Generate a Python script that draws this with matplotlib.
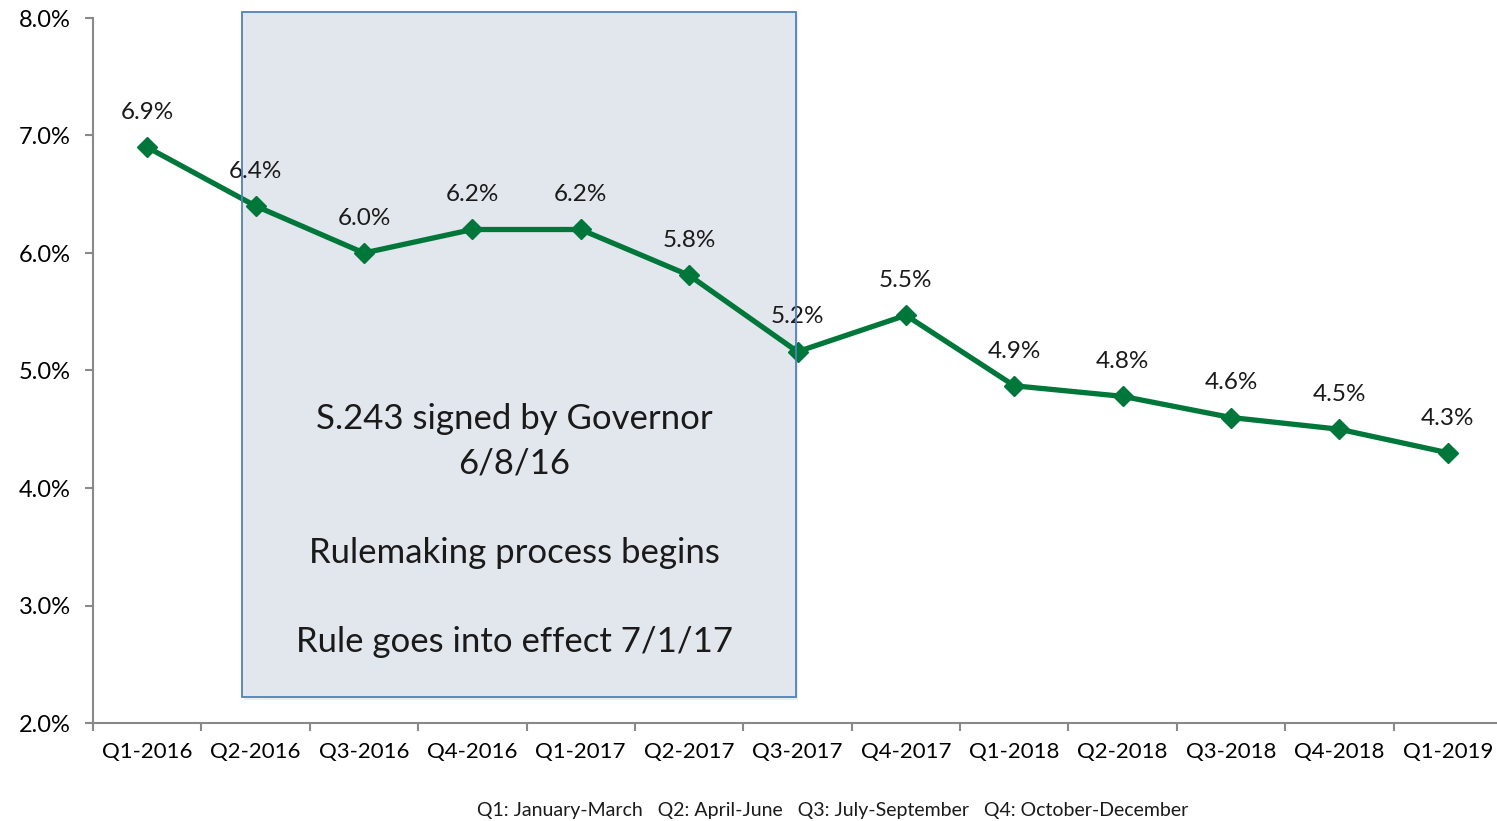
import numpy as np
import matplotlib.pyplot as plt
from matplotlib.patches import Rectangle

quarters = ["Q1-2016", "Q2-2016", "Q3-2016", "Q4-2016", "Q1-2017", "Q2-2017",
            "Q3-2017", "Q4-2017", "Q1-2018", "Q2-2018", "Q3-2018", "Q4-2018", "Q1-2019"]
rates = [6.9, 6.4, 6.0, 6.2, 6.2, 5.81, 5.16, 5.47, 4.87, 4.78, 4.6, 4.5, 4.3]
rate_labels = ["6.9%", "6.4%", "6.0%", "6.2%", "6.2%", "5.8%", "5.2%", "5.5%",
               "4.9%", "4.8%", "4.6%", "4.5%", "4.3%"]
y_ticks = [2.0, 3.0, 4.0, 5.0, 6.0, 7.0, 8.0]

box_text = ("S.243 signed by Governor\n6/8/16\n\nRulemaking process begins\n\n"
            "Rule goes into effect 7/1/17")
footnote = "Q1: January-March   Q2: April-June   Q3: July-September   Q4: October-December"

plt.rcParams['font.family'] = ['Lato', 'DejaVu Sans']

fig = plt.figure(figsize=(14.97, 8.21), dpi=100)
ax = fig.add_axes([93 / 1497, 1 - 723 / 821, (1502 - 93) / 1497, (723 - 18) / 821])

x = np.arange(len(quarters))

# shaded box (fill below the line, border above)
ax.add_patch(Rectangle((0.89, 2.20), 5.11, 5.83, facecolor='#c9c9c9', edgecolor='none',
                       alpha=0.35, zorder=0, clip_on=False))
ax.add_patch(Rectangle((0.876, 2.22), 5.11, 5.83, facecolor='#e2e6ed', edgecolor='none',
                       zorder=0.5, clip_on=False))
ax.add_patch(Rectangle((0.876, 2.22), 5.11, 5.83, facecolor='none', edgecolor='#4f81bd',
                       linewidth=1.3, zorder=5, clip_on=False))

ax.plot(x, rates, '-D', color='#00773A', linewidth=3.8, markersize=10, zorder=3)

for xi, v, lab in zip(x, rates, rate_labels):
    ax.annotate(lab, (xi, v), xytext=(0, 25), textcoords='offset points',
                ha='center', va='center', fontsize=17.5, color='#1a1a1a', zorder=4)

ax.text(3.39, 3.64, box_text, ha='center', va='center', fontsize=25,
        color='#1a1a1a', linespacing=1.48, zorder=6)

ax.set_xlim(-0.5, len(quarters) - 0.5)
ax.set_ylim(2.0, 8.0)
ax.set_yticks(y_ticks)
ax.set_yticklabels([f"{t:.1f}%" for t in y_ticks], fontsize=17)
ax.set_xticks(x)
ax.set_xticklabels(quarters, fontsize=16)
ax.set_xticks(np.arange(-0.5, len(quarters), 1), minor=True)
ax.tick_params(axis='x', which='major', length=0, pad=13.5)
ax.tick_params(axis='x', which='minor', length=6, color='#898989', width=1.5)
ax.tick_params(axis='y', length=6, color='#898989', width=1.5, pad=10)

for s in ['top', 'right']:
    ax.spines[s].set_visible(False)
for s in ['left', 'bottom']:
    ax.spines[s].set_color('#898989')
    ax.spines[s].set_linewidth(1.5)

fig.text(833 / 1497, 1 - 810 / 821, footnote, ha='center', va='center', fontsize=14,
         color='#1a1a1a')

fig.savefig("out.png", dpi=100)
